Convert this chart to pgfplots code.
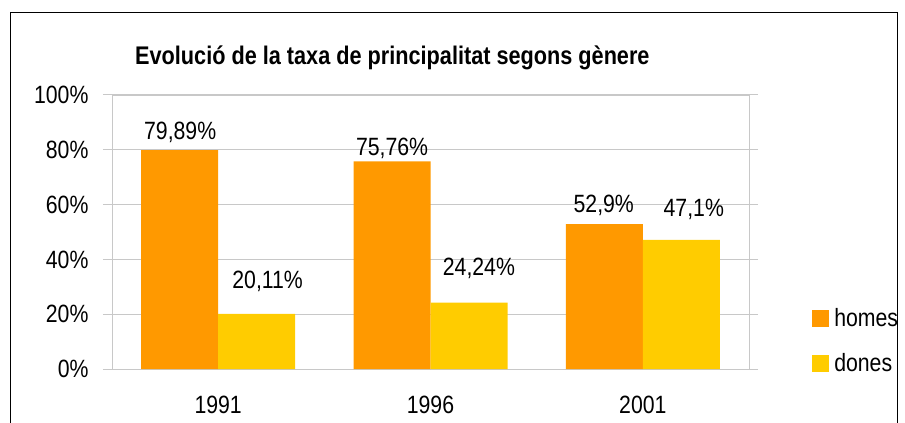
\documentclass[border=0pt]{standalone}
\usepackage{fontspec}
\setmainfont{Liberation Sans}[FakeStretch=0.85]
\usepackage{pgfplots}
\pgfplotsset{compat=1.18}
\definecolor{cHom}{HTML}{FF9900}
\definecolor{cDon}{HTML}{FFCC00}
\definecolor{cGrid}{HTML}{C8C8C8}
\begin{document}
\begin{tikzpicture}
\useasboundingbox (0,0) rectangle (905pt,423pt);
\draw[black, line width=1pt] (10pt,-5pt) -- (10pt,410pt) -- (897pt,410pt) -- (897pt,-5pt);
\node[font=\fontsize{25.5}{30}\selectfont\bfseries, anchor=west, inner sep=0pt] at (135pt,365pt) {Evolució de la taxa de principalitat segons gènere};
\begin{axis}[
  at={(112pt,54pt)}, anchor=south west,
  scale only axis, width=637pt, height=274pt,
  xmin=-0.5, xmax=2.5, ymin=0, ymax=100,
  axis line style={cGrid, line width=1pt},
  ytick={0,20,40,60,80,100},
  yticklabel={\pgfmathprintnumber{\tick}\%},
  /pgf/number format/assume math mode=true,
  ymajorgrids, grid style={cGrid, line width=0.8pt},
  xtick={0,1,2}, xticklabels={1991,1996,2001},
  extra x ticks={-0.5,0.5,1.5,2.5}, extra x tick labels={},
  extra x tick style={major tick length=9pt, tick style={cGrid, line width=1pt}, grid=none},
  tick align=outside, major tick length=9pt,
  x tick style={draw=none},
  y tick style={cGrid, line width=1pt},
  tick label style={font=\fontsize{25}{30}\selectfont},
  yticklabel style={xshift=-11pt},
  xticklabel style={yshift=-15pt},
  legend style={at={(1.099,0.228)}, anchor=north west, draw=none, fill=none,
    font=\fontsize{25}{30}\selectfont, row sep=21pt,
    legend cell align=left, inner sep=0pt},
  legend image code/.code={\fill[#1] (0pt,-8.5pt) rectangle (17pt,8.5pt);},
  clip=false,
]
\addplot[ybar, bar width=77pt, bar shift=-38.5pt, fill=cHom, draw=none] coordinates {(0,79.89) (1,75.76) (2,52.9)};
\addplot[ybar, bar width=77pt, bar shift=38.5pt, fill=cDon, draw=none] coordinates {(0,20.11) (1,24.24) (2,47.1)};
\legend{\hspace*{3pt}homes,\hspace*{3pt}dones}
\begin{scope}[every node/.style={font=\fontsize{25}{30}\selectfont}]
\node at (axis cs:-0.179,86.5) {79,89\%};
\node at (axis cs:0.233,31.8) {20,11\%};
\node at (axis cs:0.819,80.7) {75,76\%};
\node at (axis cs:1.228,36.9) {24,24\%};
\node at (axis cs:1.816,59.9) {52,9\%};
\node at (axis cs:2.240,58.4) {47,1\%};
\end{scope}
\end{axis}
\end{tikzpicture}
\end{document}
